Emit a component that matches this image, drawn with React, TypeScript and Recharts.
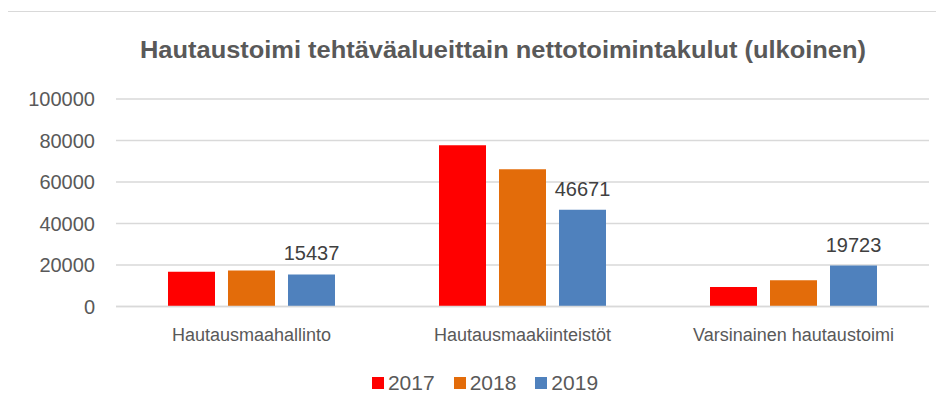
import React from "react";
import { BarChart, Bar, XAxis, YAxis, CartesianGrid, LabelList } from "recharts";

const categories = ["Hautausmaahallinto", "Hautausmaakiinteistöt", "Varsinainen hautaustoimi"];
const values2017 = [16800, 77700, 9400];
const values2018 = [17400, 66100, 12600];
const values2019 = [15437, 46671, 19723];
const yTicks = [0, 20000, 40000, 60000, 80000, 100000];
const seriesNames = ["2017", "2018", "2019"];
const seriesColors = ["#FF0000", "#E36C0A", "#4F81BD"];
const title = "Hautaustoimi tehtäväalueittain nettotoimintakulut (ulkoinen)";

const data = categories.map((c, i) => ({
  name: c,
  y2017: values2017[i],
  y2018: values2018[i],
  y2019: values2019[i],
}));

const FONT = "'Liberation Sans', Arial, sans-serif";

const LegendBox = () => (
  <div style={{ position: "absolute", left: 0, top: 371, width: 944, display: "flex", justifyContent: "center", alignItems: "center", fontFamily: FONT, fontSize: 21, color: "#595959", paddingLeft: 26, boxSizing: "border-box" }}>
    {seriesNames.map((n, i) => (
      <div key={n} style={{ display: "flex", alignItems: "center", marginRight: i < 2 ? 19 : 0 }}>
        <div style={{ width: 12, height: 12, background: seriesColors[i], marginRight: 4 }} />
        <span>{n}</span>
      </div>
    ))}
  </div>
);

export default function App() {
  return (
    <div style={{ position: "relative", margin: -8, width: 944, height: 414, overflow: "hidden", background: "#fff" }}>
      <div style={{ position: "absolute", left: 4, top: 11, width: 980, height: 440, border: "1px solid #d9d9d9", boxSizing: "border-box" }} />
      <svg style={{ position: "absolute", left: 0, top: 0 }} width={944} height={80}>
        <text x={140} y={58} textLength={726} lengthAdjust="spacingAndGlyphs" fontFamily={FONT} fontWeight="bold" fontSize={24} fill="#595959">
          {title}
        </text>
      </svg>
      <div style={{ position: "absolute", left: 0, top: 0 }}>
        <BarChart
          width={944}
          height={414}
          data={data}
          margin={{ top: 99, right: 15, bottom: 77.5, left: 0 }}
          barCategoryGap={52}
          barGap={13}
        >
          <CartesianGrid vertical={false} stroke="#d9d9d9" strokeWidth={1.5} />
          <XAxis
            dataKey="name"
            axisLine={{ stroke: "#d9d9d9", strokeWidth: 1.5 }}
            tickLine={false}
            tickMargin={16}
            tick={{ fill: "#595959", fontSize: 18, fontFamily: FONT }}
            interval={0}
          />
          <YAxis
            width={116}
            domain={[0, 100000]}
            ticks={yTicks}
            axisLine={false}
            tickLine={false}
            tickMargin={15}
            tick={{ fill: "#595959", fontSize: 20, fontFamily: FONT }}
          />
          <Bar dataKey="y2017" name="2017" fill={seriesColors[0]} isAnimationActive={false} />
          <Bar dataKey="y2018" name="2018" fill={seriesColors[1]} isAnimationActive={false} />
          <Bar dataKey="y2019" name="2019" fill={seriesColors[2]} isAnimationActive={false}>
            <LabelList dataKey="y2019" position="top" offset={14} fill="#404040" fontSize={20} fontFamily={FONT} />
          </Bar>
        </BarChart>
      </div>
      <LegendBox />
    </div>
  );
}
